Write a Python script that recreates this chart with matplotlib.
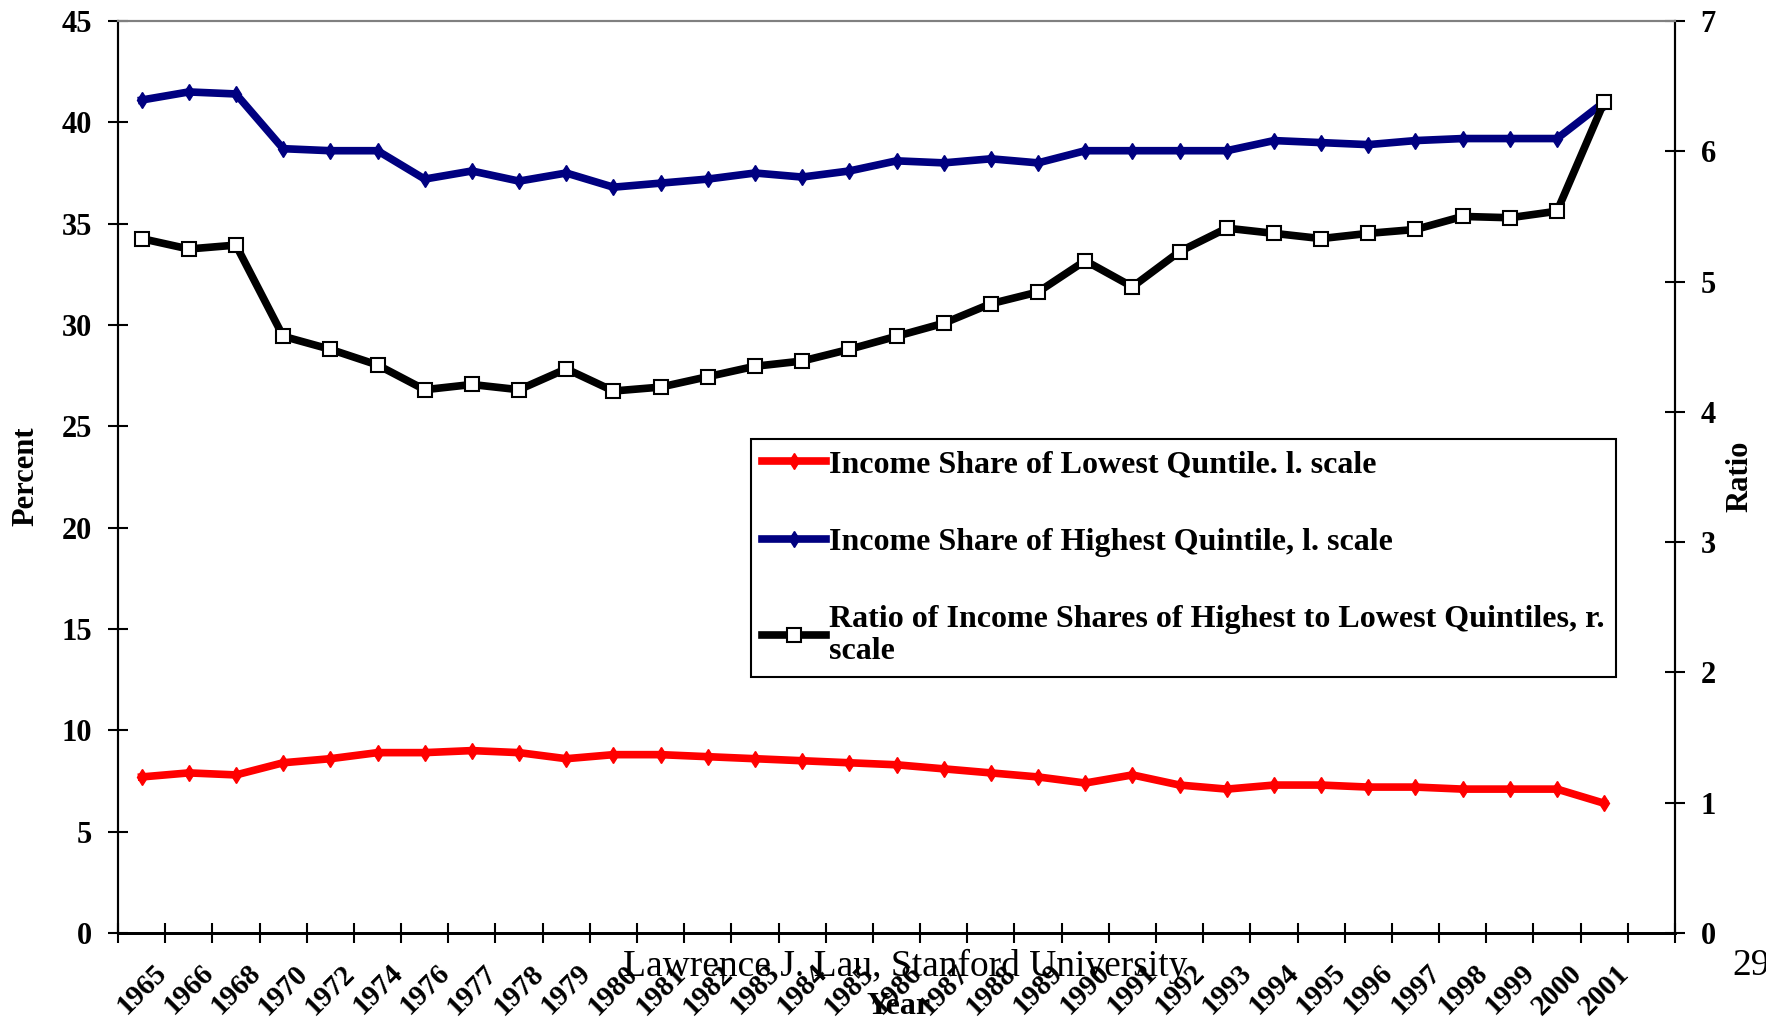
import numpy as np
import matplotlib
matplotlib.use('Agg')
import matplotlib.pyplot as plt

plt.rcParams['font.family'] = ['Liberation Serif', 'DejaVu Serif']
plt.rcParams['font.weight'] = 'bold'

years = ['1965', '1966', '1968', '1970', '1972', '1974', '1976', '1977', '1978', '1979',
         '1980', '1981', '1982', '1983', '1984', '1985', '1986', '1987', '1988', '1989',
         '1990', '1991', '1992', '1993', '1994', '1995', '1996', '1997', '1998', '1999',
         '2000', '2001']
lowest_share = [7.7, 7.9, 7.8, 8.4, 8.6, 8.9, 8.9, 9.0, 8.9, 8.6,
                8.8, 8.8, 8.7, 8.6, 8.5, 8.4, 8.3, 8.1, 7.9, 7.7,
                7.4, 7.8, 7.3, 7.1, 7.3, 7.3, 7.2, 7.2, 7.1, 7.1,
                7.1, 6.4]
highest_share = [41.1, 41.5, 41.4, 38.7, 38.6, 38.6, 37.2, 37.6, 37.1, 37.5,
                 36.8, 37.0, 37.2, 37.5, 37.3, 37.6, 38.1, 38.0, 38.2, 38.0,
                 38.6, 38.6, 38.6, 38.6, 39.1, 39.0, 38.9, 39.1, 39.2, 39.2,
                 39.2, 41.0]
ratio = [5.33, 5.25, 5.28, 4.58, 4.48, 4.36, 4.17, 4.21, 4.17, 4.33,
         4.16, 4.19, 4.27, 4.35, 4.39, 4.48, 4.58, 4.68, 4.83, 4.92,
         5.16, 4.96, 5.23, 5.41, 5.37, 5.33, 5.37, 5.40, 5.50, 5.49,
         5.54, 6.38]
labels = ['Income Share of Lowest Quntile. l. scale',
          'Income Share of Highest Quintile, l. scale',
          'Ratio of Income Shares of Highest to Lowest Quintiles, r.\nscale']

n_slots = len(years) + 1   # one empty category at the right end
x = np.arange(len(years))

fig = plt.figure(figsize=(17.66, 10.21), dpi=100)
ax = fig.add_axes([118/1766, 1 - 933/1021, (1675-118)/1766, (933-21)/1021])
ax2 = ax.twinx()

l1, = ax.plot(x, lowest_share, color='#ff0000', lw=5.5, marker='d', ms=8,
              solid_joinstyle='miter')
l2, = ax.plot(x, highest_share, color='#000080', lw=5.5, marker='d', ms=8,
              solid_joinstyle='miter')
l3, = ax2.plot(x, ratio, color='black', lw=5.5, marker='s', ms=10,
               mfc='white', mec='black', mew=1.5)

ax.set_xlim(-0.5, n_slots - 0.5)
ax.set_ylim(0, 45)
ax2.set_ylim(0, 7)
ax.set_yticks(np.arange(0, 46, 5))
ax2.set_yticks(np.arange(0, 8, 1))

ax.set_xticks(np.arange(n_slots + 1) - 0.5)
ax.set_xticklabels([])
ax.set_xticks(x, minor=True)
ax.set_xticklabels(years, minor=True, rotation=45, fontsize=21, fontweight='bold')
ax.tick_params(axis='x', which='minor', length=0, pad=19)
ax.tick_params(axis='x', which='major', direction='inout', length=15, width=1.5)
ax.tick_params(axis='y', direction='inout', length=15, width=1.5, pad=11, labelsize=22)
ax2.tick_params(axis='y', direction='inout', length=15, width=1.5, pad=11, labelsize=22)

for a in (ax, ax2):
    a.spines['top'].set_color('#808080')
    a.spines['top'].set_linewidth(1.5)
    a.spines['left'].set_linewidth(1.5)
    a.spines['right'].set_linewidth(1.5)
    a.spines['bottom'].set_linewidth(2)

leg = ax2.legend([l1, l2, l3], labels, loc='upper left',
                 bbox_to_anchor=(751/1766, 1 - 439/1021), bbox_transform=fig.transFigure,
                 prop={'size': 23, 'weight': 'bold'}, fancybox=False, framealpha=1,
                 edgecolor='black', borderpad=0.35, labelspacing=1.5,
                 handlelength=2.0, handletextpad=0.1, numpoints=1, borderaxespad=0)
leg.get_frame().set_linewidth(1.5)
leg.get_texts()[2].set_linespacing(1.15)

fig.text(26/1766, 1 - 476/1021, 'Percent', rotation=90, ha='center', va='center',
         fontsize=22, fontweight='bold')
fig.text(1740/1766, 1 - 476/1021, 'Ratio', rotation=90, ha='center', va='center',
         fontsize=22, fontweight='bold')
fig.text(899/1766, 1 - 1006/1021, 'Year', ha='center', va='center',
         fontsize=23, fontweight='bold')
fig.text(905/1766, 1 - 966/1021, 'Lawrence J. Lau, Stanford University', ha='center',
         va='center', fontsize=27, fontweight='normal')
fig.text(1732/1766, 1 - 966/1021, '29', ha='left', va='center',
         fontsize=27, fontweight='normal')

fig.savefig('out.png', dpi=100)
